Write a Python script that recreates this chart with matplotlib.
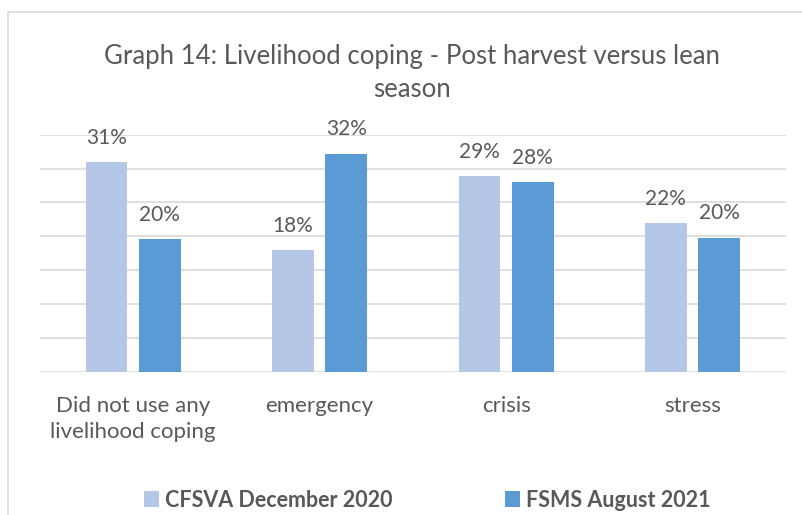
import matplotlib.pyplot as plt
import numpy as np
from matplotlib.patches import Rectangle

plt.rcParams['font.family'] = ['Lato', 'DejaVu Sans']

categories = ["Did not use any\nlivelihood coping", "emergency", "crisis", "stress"]
series_names = ["CFSVA December 2020", "FSMS August 2021"]
cfsva_dec_2020 = [30.9, 17.9, 28.9, 21.9]
fsms_aug_2021 = [19.6, 32.2, 28.0, 19.8]
labels_cfsva = ["31%", "18%", "29%", "22%"]
labels_fsms = ["20%", "32%", "28%", "20%"]

LIGHT = '#B4C7E7'
DARK = '#5B9BD5'
TEXT = '#595959'
GRID = '#D9D9D9'

fig = plt.figure(figsize=(8.03, 5.15), dpi=100)
ax = fig.add_axes([0.0498, 0.2783, 0.9287, 0.4601])

# chart frame (cropped on right / bottom)
fig.patches.append(Rectangle((8 / 803, -0.1), 2.0, 1.1 - 12 / 515,
                             transform=fig.transFigure, fill=False,
                             edgecolor=GRID, linewidth=1.2, zorder=0))

x = np.arange(len(categories))
w = 0.224
off = 0.143
b1 = ax.bar(x - off, cfsva_dec_2020, w, color=LIGHT, label=series_names[0], zorder=3)
b2 = ax.bar(x + off, fsms_aug_2021, w, color=DARK, label=series_names[1], zorder=3)

for bars, labs in ((b1, labels_cfsva), (b2, labels_fsms)):
    for r, t in zip(bars, labs):
        ax.text(r.get_x() + r.get_width() / 2, r.get_height() + 2.1, t,
                ha='center', va='bottom', fontsize=15, color=TEXT)

ax.set_xlim(-0.5, 3.5)
ax.set_ylim(0, 35)
ax.set_yticks(np.arange(0, 36, 5))
ax.yaxis.grid(True, color=GRID, linewidth=1.2, zorder=0)
ax.tick_params(axis='y', left=False, labelleft=False)
ax.tick_params(axis='x', bottom=False, labelsize=16, labelcolor=TEXT, pad=14)
ax.set_xticks(x)
ax.set_xticklabels(categories, linespacing=1.4)
for s in ax.spines.values():
    s.set_visible(False)

fig.text(0.513, 0.858, "Graph 14: Livelihood coping - Post harvest versus lean\nseason",
         ha='center', va='center', fontsize=18.5, color=TEXT, linespacing=1.4)

fig.legend(handles=[b1, b2], labels=series_names, loc='center', bbox_to_anchor=(0.532, 0.029),
           ncol=2, frameon=False, handlelength=0.7, handleheight=0.7, handletextpad=0.3,
           columnspacing=5.2, prop={'size': 15.5, 'weight': 'bold'}, labelcolor=TEXT)

fig.savefig('out.png', dpi=100)
